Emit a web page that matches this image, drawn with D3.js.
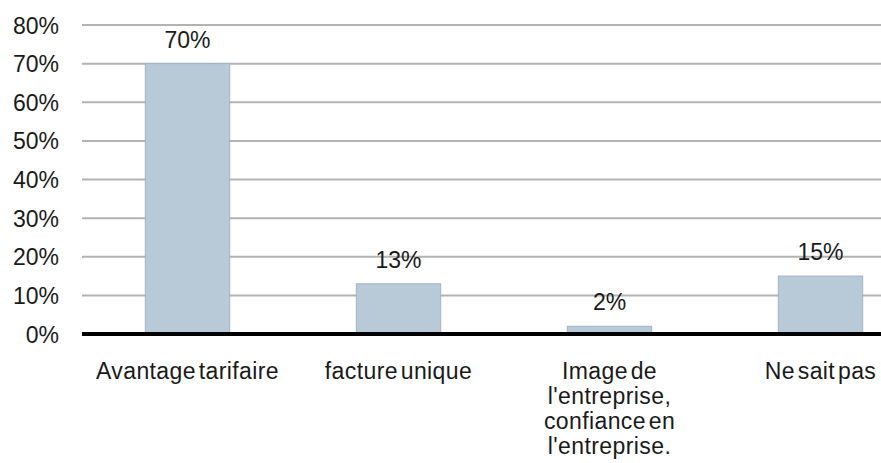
<!DOCTYPE html>
<html><head><meta charset="utf-8">
<script src="https://cdn.jsdelivr.net/npm/d3@7"></script>
<style>body{margin:0;background:#fff}svg{display:block}</style>
</head><body>
<svg id="c" width="881" height="463"></svg>
<script>
const categories = [["Avantage tarifaire"], ["facture unique"], ["Image de", "l'entreprise,", "confiance en", "l'entreprise."], ["Ne sait pas"]];
const values = [0.70, 0.13, 0.02, 0.15];
const valueLabels = ["70%", "13%", "2%", "15%"];
const yTicks = [0, 0.1, 0.2, 0.3, 0.4, 0.5, 0.6, 0.7, 0.8];

const svg = d3.select("#c");
const font = "'Liberation Sans', Arial, sans-serif";
const fs = 23;
const x = d3.scaleBand().domain(d3.range(categories.length)).range([82, 926]).paddingInner(0.6).paddingOuter(0.3);
const y = d3.scaleLinear().domain([0, 0.8]).range([334, 25]);

// gridlines
svg.append("g").selectAll("line").data(yTicks.filter(d => d > 0)).join("line")
  .attr("x1", 82).attr("x2", 881).attr("y1", d => y(d)).attr("y2", d => y(d))
  .attr("stroke", "#b3b3b3").attr("stroke-width", 2);

// y axis labels
const yAxis = d3.axisLeft(y).tickValues(yTicks).tickFormat(d3.format(".0%")).tickSize(0).tickPadding(0);
const ya = svg.append("g").attr("transform", "translate(59,0)").call(yAxis);
ya.select(".domain").remove();
ya.selectAll("text").attr("font-family", font).attr("font-size", fs).attr("fill", "#1a1a1a").attr("dy", "0.35em");

// bars
svg.append("g").selectAll("rect").data(values).join("rect")
  .attr("x", (d, i) => x(i)).attr("width", x.bandwidth())
  .attr("y", d => y(d)).attr("height", d => y(0) - y(d))
  .attr("fill", "#b8c9d8").attr("stroke", "#a3b3c2").attr("stroke-width", 1);

// value labels
svg.append("g").selectAll("text").data(values).join("text")
  .attr("x", (d, i) => x(i) + x.bandwidth() / 2).attr("y", d => y(d) - 16)
  .attr("text-anchor", "middle").attr("font-family", font).attr("font-size", fs).attr("fill", "#1a1a1a")
  .text((d, i) => valueLabels[i]);

// x axis line
svg.append("line").attr("x1", 82).attr("x2", 881).attr("y1", y(0)).attr("y2", y(0))
  .attr("stroke", "#000").attr("stroke-width", 4);

// category labels
const cg = svg.append("g").selectAll("text").data(categories).join("text")
  .attr("x", (d, i) => x(i) + x.bandwidth() / 2).attr("y", 379)
  .attr("text-anchor", "middle").attr("font-family", font).attr("font-size", fs).attr("fill", "#1a1a1a")
  .attr("letter-spacing", "0.4").attr("word-spacing", "-4");
cg.selectAll("tspan").data(d => d).join("tspan")
  .attr("x", function() { return this.parentNode.getAttribute("x"); })
  .attr("dy", (d, i) => i === 0 ? 0 : 25).text(d => d);
</script>
</body></html>
